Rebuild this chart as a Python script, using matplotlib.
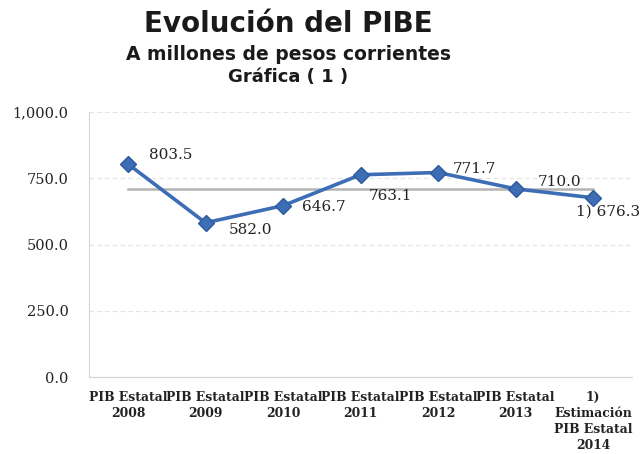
import matplotlib
matplotlib.use('Agg')
import matplotlib.pyplot as plt

# datos
categorias = ['PIB Estatal\n2008', 'PIB Estatal\n2009', 'PIB Estatal\n2010',
              'PIB Estatal\n2011', 'PIB Estatal\n2012', 'PIB Estatal\n2013',
              '1)\nEstimación\nPIB Estatal\n2014']
pibe = [803.5, 582.0, 646.7, 763.1, 771.7, 710.0, 676.3]
etiquetas = ['803.5', '582.0', '646.7', '763.1', '771.7', '710.0', '1) 676.3']
promedio = 707.6
y_ticks = [0, 250, 500, 750, 1000]
y_ticklabels = ['0.0', '250.0', '500.0', '750.0', '1,000.0']

# desplazamiento de cada etiqueta respecto a su punto (pixeles)
offsets = [(43, 9), (45, -7), (41, -1), (30, -21), (36, 4), (44, 7), (15, -14)]

fig = plt.figure(figsize=(6.4, 4.54), dpi=100)
ax = fig.add_axes([0.1395, 0.1696, 0.8477, 0.5837])

x = list(range(len(pibe)))

# linea del promedio
ax.plot([x[0], x[-1]], [promedio, promedio], color='#b4b4b4', lw=1.8, zorder=2)

ax.plot(x, pibe, color='#3c6db5', lw=2.6, marker='D', ms=8.5,
        markerfacecolor='#3c6db5', markeredgecolor='#2f5a9c', zorder=3)

for xi, v, t, (dx, dy) in zip(x, pibe, etiquetas, offsets):
    ax.annotate(t, (xi, v), xytext=(dx, dy), textcoords='offset pixels',
                ha='center', va='center', fontsize=11, family='DejaVu Serif',
                color='#222222', annotation_clip=False)

ax.set_xlim(-0.5, len(pibe) - 0.5)
ax.set_ylim(0, 1000)
ax.set_yticks(y_ticks)
ax.set_yticklabels(y_ticklabels, family='DejaVu Serif', fontsize=10.5, color='#222222')
ax.set_xticks(x)
ax.set_xticklabels(categorias, family='DejaVu Serif', fontsize=8.9,
                   fontweight='bold', color='#222222', linespacing=1.3)
ax.tick_params(axis='y', length=0, pad=15)
ax.tick_params(axis='x', length=0, pad=10)

ax.grid(axis='y', color='#e4e4e4', lw=0.8, ls=(0, (4, 3)))
ax.set_axisbelow(True)
for s in ['top', 'right']:
    ax.spines[s].set_visible(False)
for s in ['left', 'bottom']:
    ax.spines[s].set_color('#d4d4d4')
    ax.spines[s].set_linewidth(0.8)

fig.text(0.45, 0.9295, 'Evolución del PIBE', ha='center', va='baseline',
         fontsize=20, fontweight='bold', family='DejaVu Sans', color='#1a1a1a')
fig.text(0.45, 0.868, 'A millones de pesos corrientes', ha='center', va='baseline',
         fontsize=13.5, fontweight='bold', family='DejaVu Sans', color='#1a1a1a')
fig.text(0.45, 0.819, 'Gráfica ( 1 )', ha='center', va='baseline',
         fontsize=13, fontweight='bold', family='DejaVu Sans', color='#1a1a1a')

plt.savefig('out.png', dpi=100)
